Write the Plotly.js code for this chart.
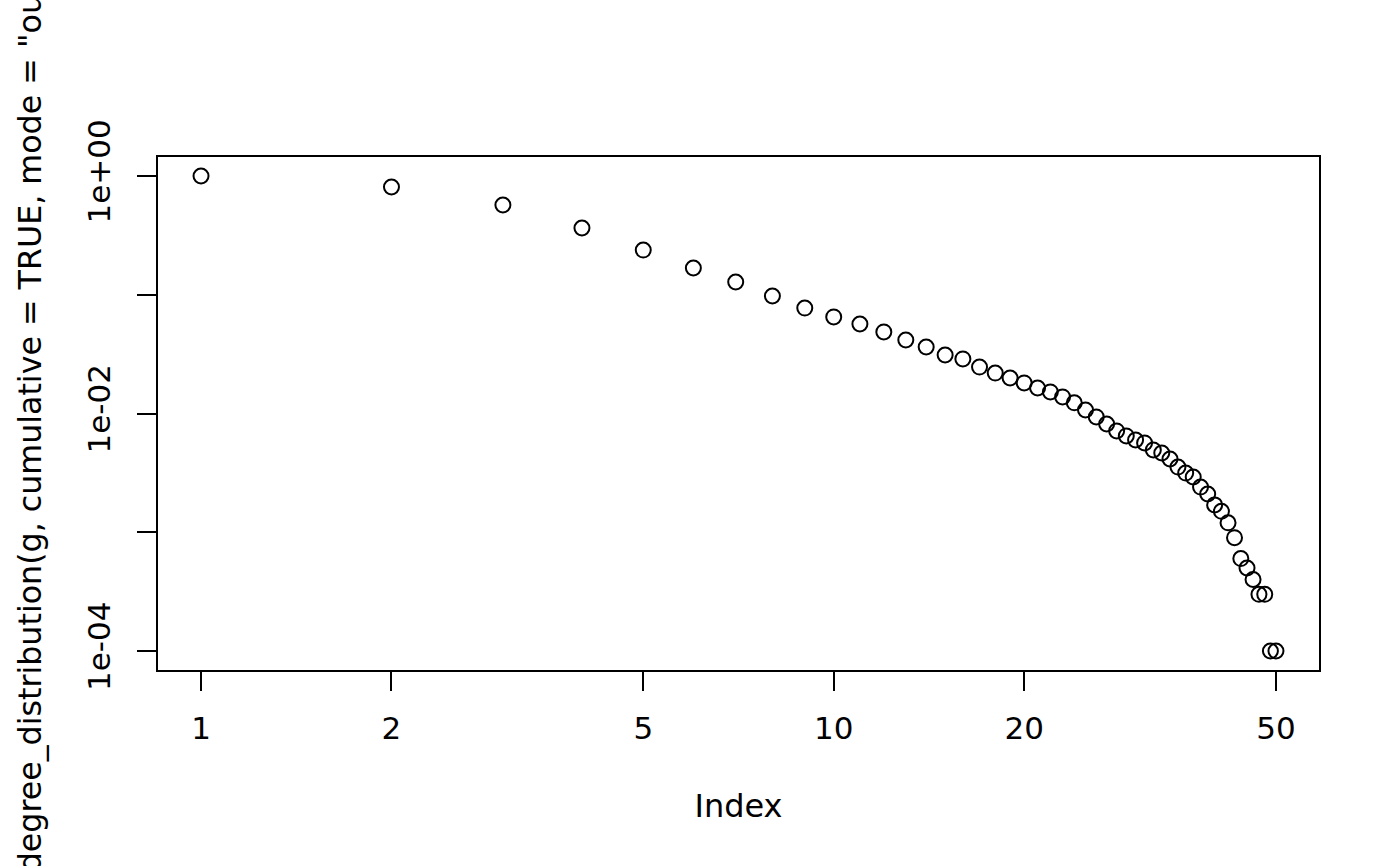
<!DOCTYPE html>
<html>
<head>
<meta charset="utf-8">
<script src="https://cdn.plot.ly/plotly-3.0.1.min.js"></script>
<style>
  html, body { margin: 0; padding: 0; background: #fff; }
  #chartBox { width: 1400px; height: 866px; }
</style>
</head>
<body>
<div id="chartBox"></div>
<script>
// index of each point and cumulative degree distribution
const pointIndex = [1, 2, 3, 4, 5, 6, 7, 8, 9, 10,
    11, 12, 13, 14, 15, 16, 17, 18, 19, 20,
    21, 22, 23, 24, 25, 26, 27, 28, 29, 30,
    31, 32, 33, 34, 35, 36, 37, 38, 39, 40,
    41, 42, 43, 44, 45, 46, 47, 48, 49, 50];
const degreeDist = [1.0, 0.808, 0.570, 0.365, 0.238, 0.168, 0.128, 0.0976, 0.0773, 0.065,
    0.0567, 0.0486, 0.0416, 0.0363, 0.0311, 0.0288, 0.0246, 0.0219, 0.0199, 0.0181,
    0.0164, 0.0152, 0.0138, 0.0123, 0.0107, 0.00935, 0.00816, 0.00713, 0.00647, 0.00598,
    0.00565, 0.00493, 0.00465, 0.00414, 0.00354, 0.00315, 0.00292, 0.0024, 0.0021, 0.0017,
    0.0015, 0.0012, 0.0009, 0.0006, 0.0005, 0.0004, 0.0003, 0.0003, 0.0001, 0.0001];

const xTickVals = [1, 2, 5, 10, 20, 50];
const xTickText = ['1', '2', '5', '10', '20', '50'];
const yTickVals = [1, 0.1, 0.01, 0.001, 0.0001];
const yTickText = ['1e+00', '', '1e-02', '', '1e-04'];

const fontFamily = 'DejaVu Sans, sans-serif';

var trace1 = {
    x: pointIndex,
    y: degreeDist,
    type: 'scatter',
    mode: 'markers',
    marker: {
        symbol: 'circle-open',
        size: 15,
        color: '#000',
        line: { color: '#000', width: 2 }
    },
    hoverinfo: 'x+y'
};

var layout = {
    width: 1400,
    height: 866,
    margin: { l: 158, r: 81, t: 157, b: 196, pad: 0 },
    paper_bgcolor: '#fff',
    plot_bgcolor: '#fff',
    showlegend: false,
    font: { family: fontFamily, size: 31, color: '#000' },
    xaxis: {
        type: 'log',
        range: [-0.068, 1.767],
        tickmode: 'array',
        tickvals: xTickVals,
        ticktext: xTickText,
        ticks: 'outside',
        ticklen: 19,
        tickwidth: 2,
        tickcolor: '#000',
        ticklabelstandoff: 11,
        showgrid: false,
        zeroline: false,
        showline: true,
        linecolor: '#000',
        linewidth: 2,
        mirror: true,
        title: { text: 'Index', font: { size: 32 }, standoff: 49 }
    },
    yaxis: {
        type: 'log',
        range: [-4.16, 0.16],
        tickmode: 'array',
        tickvals: yTickVals,
        ticktext: yTickText,
        tickangle: -90,
        ticks: 'outside',
        ticklen: 19,
        tickwidth: 2,
        tickcolor: '#000',
        ticklabelstandoff: 15,
        showgrid: false,
        zeroline: false,
        showline: true,
        linecolor: '#000',
        linewidth: 2,
        mirror: true,
        title: {
            text: 'degree_distribution(g, cumulative = TRUE, mode = "out")',
            font: { size: 31.7 },
            standoff: 30
        }
    }
};

Plotly.newPlot('chartBox', [trace1], layout, { displayModeBar: false, staticPlot: true });
</script>
</body>
</html>
